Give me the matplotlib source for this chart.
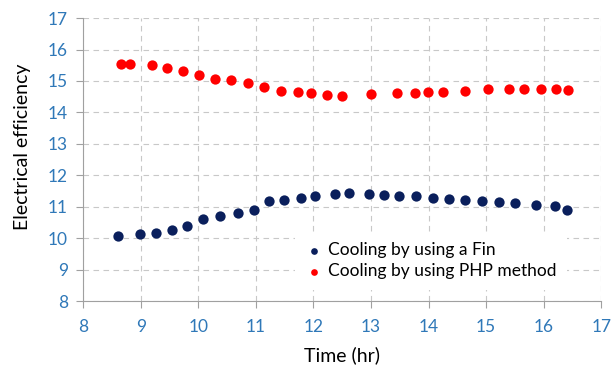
import matplotlib
matplotlib.use("Agg")
import matplotlib.pyplot as plt

# PHP cooling (red)
time_php = [8.65, 8.81, 9.2, 9.45, 9.74, 10.02, 10.29, 10.57, 10.87, 11.14, 11.44, 11.73, 11.95,
            12.24, 12.5, 13.0, 13.46, 13.76, 13.99, 14.25, 14.64, 15.04, 15.4, 15.66, 15.96, 16.21, 16.42]
eff_php = [15.53, 15.53, 15.5, 15.4, 15.32, 15.19, 15.05, 15.02, 14.94, 14.81, 14.68, 14.65, 14.61,
           14.55, 14.52, 14.58, 14.61, 14.61, 14.65, 14.65, 14.68, 14.74, 14.74, 14.74, 14.74, 14.74, 14.72]

# Fin cooling (navy)
time_fin = [8.6, 8.99, 9.27, 9.54, 9.81, 10.09, 10.37, 10.69, 10.96, 11.23, 11.49, 11.79, 12.03, 12.37,
            12.62, 12.96, 13.23, 13.49, 13.79, 14.08, 14.35, 14.64, 14.93, 15.23, 15.5, 15.87, 16.19, 16.41]
eff_fin = [10.06, 10.12, 10.16, 10.27, 10.40, 10.61, 10.70, 10.79, 10.91, 11.17, 11.23, 11.29, 11.34, 11.42,
           11.44, 11.40, 11.38, 11.35, 11.33, 11.29, 11.25, 11.22, 11.19, 11.16, 11.11, 11.07, 11.01, 10.90]

xticks = list(range(8, 18))
yticks = list(range(8, 18))

plt.rcParams['font.family'] = ['Lato', 'DejaVu Sans']
tick_col = '#2F78B8'

fig = plt.figure(figsize=(6.16, 3.76), dpi=100)
ax = fig.add_axes([0.135, 0.199, 0.841, 0.753])

ax.scatter(time_fin, eff_fin, s=55, color='#0A1F5C', label='Cooling by using a Fin', zorder=3, linewidths=0)
ax.scatter(time_php, eff_php, s=55, color='#FF0000', label='Cooling by using PHP method', zorder=3, linewidths=0)

ax.set_xlim(8, 17)
ax.set_ylim(8, 17)
ax.set_xticks(xticks)
ax.set_yticks(yticks)
ax.grid(True, linestyle=(0, (5, 4)), color='#C8C8C8', linewidth=0.8)
ax.set_axisbelow(True)

for s in ['top', 'right']:
    ax.spines[s].set_visible(False)
for s in ['left', 'bottom']:
    ax.spines[s].set_color('#A0A0A0')

ax.tick_params(axis='both', colors='#A0A0A0', labelcolor=tick_col, labelsize=12.5, length=5)
ax.tick_params(axis='x', pad=8)
ax.tick_params(axis='y', pad=6)

ax.set_xlabel('Time (hr)', fontsize=14, labelpad=8)
ax.set_ylabel('Electrical efficiency', fontsize=14)
ax.yaxis.set_label_coords(-0.1, 0.545)

leg = ax.legend(loc='center left', bbox_to_anchor=(0.409, 0.143), borderaxespad=0, frameon=True,
                fontsize=12.5, markerscale=0.65, handletextpad=0.3, handlelength=1.0,
                borderpad=0.6, labelspacing=0.3)
leg.get_frame().set_edgecolor('none')
leg.get_frame().set_facecolor('white')
leg.get_frame().set_alpha(1)

fig.savefig('out.png', dpi=100)
